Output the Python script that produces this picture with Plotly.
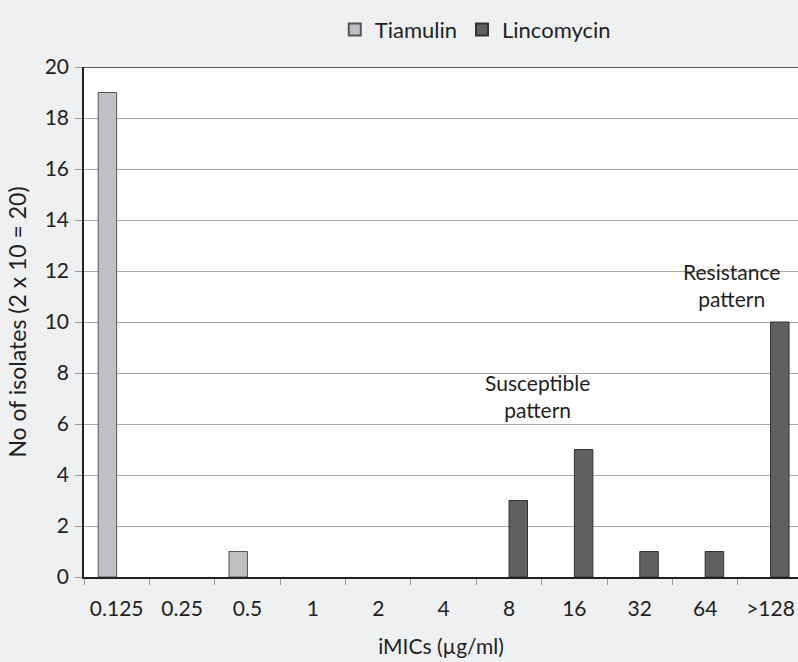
import plotly.graph_objects as go

categories = ["0.125", "0.25", "0.5", "1", "2", "4", "8", "16", "32", "64", ">128"]
tiamulin = [19, 0, 1, 0, 0, 0, 0, 0, 0, 0, 0]
lincomycin = [0, 0, 0, 0, 0, 0, 3, 5, 1, 1, 10]
y_ticks = [0, 2, 4, 6, 8, 10, 12, 14, 16, 18, 20]

FONT = "Lato"
TXT = "#231f20"


def nz(vals):
    return [v if v else None for v in vals]


fig = go.Figure()
fig.add_trace(go.Bar(
    name="Tiamulin", x=categories, y=nz(tiamulin),
    marker=dict(color="#bfc0c3", line=dict(color="#555555", width=1)),
))
fig.add_trace(go.Bar(
    name="Lincomycin", x=categories, y=nz(lincomycin),
    marker=dict(color="#5f6062", line=dict(color="#333333", width=1)),
))

fig.add_annotation(x=6.43, y=7.09, xref="x", yref="y", text="Susceptible<br>pattern",
                   showarrow=False, font=dict(family=FONT, size=21, color=TXT))
fig.add_annotation(x=9.41, y=11.47, xref="x", yref="y", text="Resistance<br>pattern",
                   showarrow=False, font=dict(family=FONT, size=21, color=TXT))

fig.add_shape(type="line", xref="paper", yref="y", x0=0, x1=1, y0=20, y1=20,
              line=dict(color="#222222", width=1.5))

fig.update_layout(
    width=798, height=662,
    margin=dict(l=84, r=0, t=67, b=85),
    paper_bgcolor="#eff0f2", plot_bgcolor="#ffffff",
    barmode="group", bargap=0.434, bargroupgap=0,
    font=dict(family=FONT, size=21, color=TXT),
    legend=dict(orientation="h", x=0.548, xanchor="center", y=1.073, yanchor="middle",
                font=dict(family=FONT, size=22, color=TXT), bgcolor="rgba(0,0,0,0)",
                itemsizing="constant", traceorder="normal"),
    xaxis=dict(
        type="category", range=[-0.5, 10.42], tickson="boundaries",
        ticks="outside", ticklen=6, tickcolor="#999999",
        showline=True, linecolor="#222222", linewidth=1.5,
        showgrid=False, tickfont=dict(size=21), ticklabelstandoff=12,
        title=dict(text="iMICs (µg/ml)", font=dict(size=21), standoff=20),
    ),
    yaxis=dict(
        range=[0, 20], tickvals=y_ticks, ticks="outside", ticklen=7, tickcolor="#999999",
        showline=True, linecolor="#222222", linewidth=1.5,
        showgrid=True, gridcolor="#a6a6a6", gridwidth=1, zeroline=False,
        tickfont=dict(size=21), ticklabelstandoff=2,
        title=dict(text="No of isolates (2 x 10 = 20)", font=dict(size=23), standoff=12),
    ),
)

fig.write_html("out.html", config={"displayModeBar": False},
               post_script="document.body.style.margin='0';")
